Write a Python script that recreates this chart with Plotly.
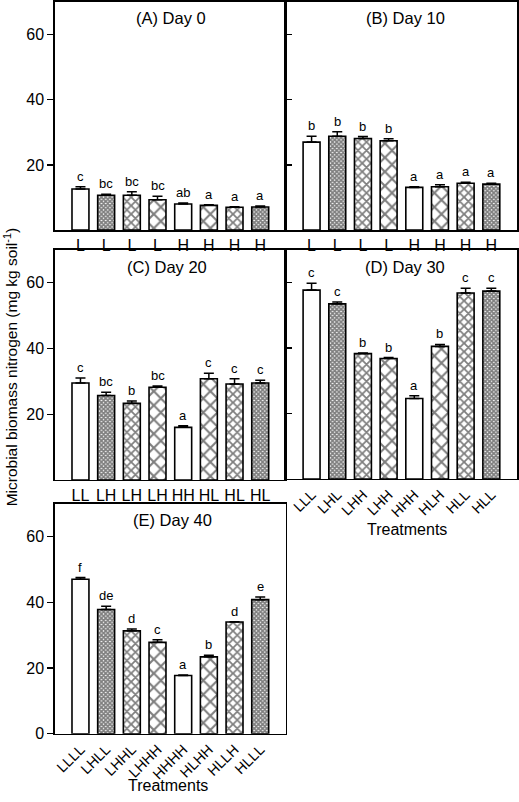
import plotly.graph_objects as go

# ---------------- data ----------------
labels_A = ["L", "L", "L", "L", "H", "H", "H", "H"]
values_A = [12.6, 10.7, 10.7, 9.3, 8.0, 7.6, 7.0, 7.1]
err_A = [0.7, 0.3, 1.1, 1.1, 0.3, 0.2, 0.2, 0.3]
sig_A = ["c", "bc", "bc", "bc", "ab", "a", "a", "a"]

labels_B = ["L", "L", "L", "L", "H", "H", "H", "H"]
values_B = [27.0, 28.8, 28.1, 27.4, 13.1, 13.3, 14.4, 14.1]
err_B = [1.8, 1.4, 0.6, 0.6, 0.2, 0.6, 0.3, 0.3]
sig_B = ["b", "b", "b", "b", "a", "a", "a", "a"]

labels_C = ["LL", "LH", "LH", "LH", "HH", "HL", "HL", "HL"]
values_C = [29.5, 25.7, 23.3, 28.2, 16.0, 30.8, 29.2, 29.5]
err_C = [1.5, 1.0, 0.7, 0.4, 0.5, 1.7, 1.6, 0.8]
sig_C = ["c", "bc", "b", "bc", "a", "c", "c", "c"]

labels_D = ["LLL", "LHL", "LHH", "LHH", "HHH", "HLH", "HLL", "HLL"]
values_D = [57.7, 53.5, 38.3, 36.8, 24.6, 40.5, 56.8, 57.4]
err_D = [2.1, 0.6, 0.2, 0.3, 0.8, 0.6, 1.5, 0.9]
sig_D = ["c", "c", "b", "b", "a", "b", "c", "c"]

labels_E = ["LLLL", "LHLL", "LHHL", "LHHH", "HHHH", "HLHH", "HLLH", "HLLL"]
values_E = [47.0, 37.8, 31.3, 27.8, 17.7, 23.4, 34.0, 40.8]
err_E = [0.5, 1.0, 0.6, 0.8, 0.2, 0.5, 0.1, 0.8]
sig_E = ["f", "de", "d", "c", "a", "b", "d", "e"]

titles = ["(A) Day 0", "(B) Day 10", "(C) Day 20", "(D) Day 30", "(E) Day 40"]

# pattern per treatment position (open, dense, medium, large, open, large, medium, dense)
pat_shape = ["", "x", "x", "x", "", "x", "x", "x"]
pat_size = [8, 3, 6, 10, 8, 10, 6, 3]
pat_solid = [0.2, 0.8, 0.5, 0.38, 0.2, 0.38, 0.5, 0.8]

W, H = 519, 802
FONT = "Liberation Sans, Arial, sans-serif"


def px_x(p):
    return p / W


def px_y(p):
    return 1 - p / H


# panel boxes in pixels: (left, right, top, bottom)
boxes = [
    (54, 286, 1, 232),
    (286, 518, 1, 232),
    (54, 286, 252, 485),
    (286, 518, 252, 484),
    (54, 286, 509, 742),
]
title_pos = [(171, 17), (406, 17), (167, 269), (406, 269), (172, 526)]

panels = [
    (labels_A, values_A, err_A, sig_A, "outside", [20, 40, 60], True, 0),
    (labels_B, values_B, err_B, sig_B, "inside", [20, 40, 60], False, 0),
    (labels_C, values_C, err_C, sig_C, "outside", [20, 40, 60], True, 0),
    (labels_D, values_D, err_D, sig_D, "inside", [20, 40, 60], False, -45),
    (labels_E, values_E, err_E, sig_E, "outside", [0, 20, 40, 60], True, -45),
]

fig = go.Figure()
annotations = []
layout = {}

for k, (labs, vals, errs, sigs, tickdir, yticks, showlab, tang) in enumerate(panels):
    n = k + 1
    xa = "x" if n == 1 else f"x{n}"
    ya = "y" if n == 1 else f"y{n}"
    xs = list(range(len(vals)))
    fig.add_trace(go.Bar(
        x=xs, y=vals, xaxis=xa, yaxis=ya, width=0.66,
        marker=dict(
            color="white",
            line=dict(color="black", width=1.6),
            pattern=dict(shape=pat_shape, size=pat_size, solidity=pat_solid,
                         fgcolor="black", bgcolor="white", fillmode="overlay"),
        ),
        error_y=dict(type="data", array=errs, arrayminus=[0] * len(errs),
                     symmetric=False, color="black", thickness=1.5, width=5),
        showlegend=False, hoverinfo="skip",
    ))
    l, r, t, b = boxes[k]
    xkey = "xaxis" if n == 1 else f"xaxis{n}"
    ykey = "yaxis" if n == 1 else f"yaxis{n}"
    layout[xkey] = dict(
        domain=[px_x(l), px_x(r)], anchor=ya, range=[-1, 8],
        tickvals=xs, ticktext=labs, tickangle=tang, ticks="",
        showline=True, mirror=True, linecolor="black", linewidth=1.5,
        showgrid=False, zeroline=False, fixedrange=True,
        tickfont=dict(family=FONT, size=16 if tang == 0 else 14.5, color="black"),
    )
    layout[ykey] = dict(
        domain=[px_y(b), px_y(t)], anchor=xa, range=[0, 70],
        tickvals=yticks, ticks=tickdir, ticklen=6, tickwidth=1.2, tickcolor="black",
        showticklabels=showlab,
        showline=True, mirror=True, linecolor="black", linewidth=1.5,
        showgrid=False, zeroline=False, fixedrange=True,
        tickfont=dict(family=FONT, size=16, color="black"),
    )
    for i, (v, e, s) in enumerate(zip(vals, errs, sigs)):
        annotations.append(dict(
            x=i, y=v + e, xref=xa, yref=ya, text=s, showarrow=False,
            yanchor="bottom", yshift=1,
            font=dict(family=FONT, size=13, color="black"),
        ))
    # panel title
    tx, ty = title_pos[k]
    annotations.append(dict(
        x=px_x(tx), y=px_y(ty), xref="paper", yref="paper",
        text=titles[k], showarrow=False, xanchor="center", yanchor="middle",
        font=dict(family=FONT, size=16.5, color="black"),
    ))

# axis titles
annotations.append(dict(
    x=px_x(10), y=px_y(371), xref="paper", yref="paper",
    text="Microbial biomass nitrogen (mg kg soil<sup>-1</sup>)", textangle=-90,
    showarrow=False, xanchor="center", yanchor="middle",
    font=dict(family=FONT, size=15.5, color="black"),
))
annotations.append(dict(
    x=px_x(408), y=px_y(535), xref="paper", yref="paper", text="Treatments",
    showarrow=False, xanchor="center", yanchor="middle",
    font=dict(family=FONT, size=16, color="black"),
))
annotations.append(dict(
    x=px_x(168), y=px_y(794), xref="paper", yref="paper", text="Treatments",
    showarrow=False, xanchor="center", yanchor="middle",
    font=dict(family=FONT, size=16, color="black"),
))

fig.update_layout(
    width=W, height=H, margin=dict(l=0, r=0, t=0, b=0),
    paper_bgcolor="white", plot_bgcolor="rgba(0,0,0,0)",
    annotations=annotations, bargap=0, **layout,
)

fig.write_html(
    "out.html",
    config={"displayModeBar": False, "staticPlot": True},
    post_script=(
        "document.documentElement.style.margin='0';"
        "document.documentElement.style.padding='0';"
        "document.documentElement.style.overflow='hidden';"
        "document.body.style.margin='0';"
        "document.body.style.padding='0';"
        "document.body.style.overflow='hidden';"
    ),
)
